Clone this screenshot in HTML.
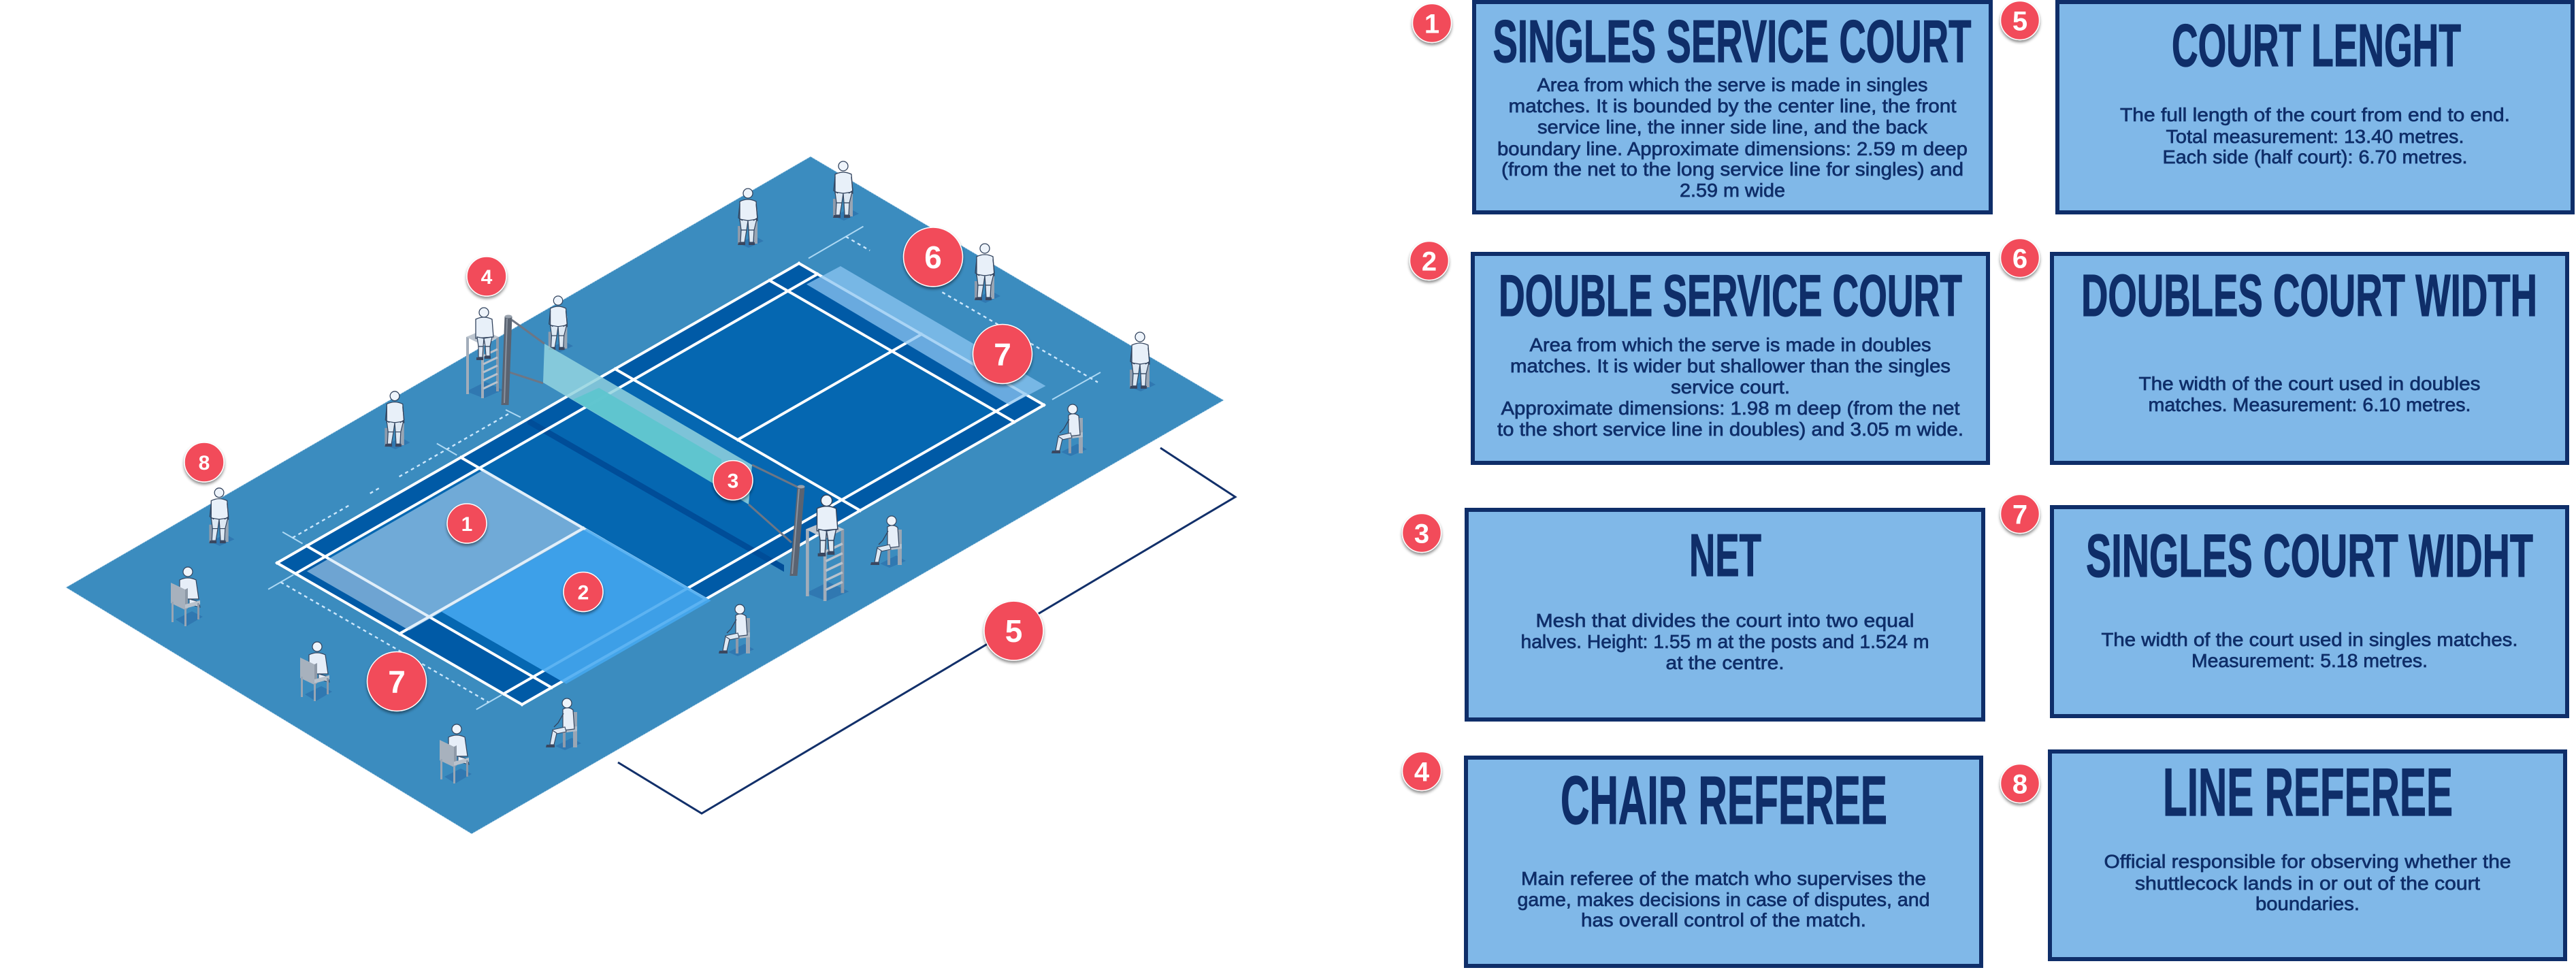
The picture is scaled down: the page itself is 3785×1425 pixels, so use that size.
<!DOCTYPE html>
<html><head><meta charset="utf-8"><style>
html,body{margin:0;padding:0;background:#fff;}
svg{display:block;}
.t{font-family:"Liberation Sans Narrow","Liberation Sans",sans-serif;font-weight:700;fill:#0f2e69;stroke:#0f2e69;stroke-width:1.2px;}
.b{font-family:"Liberation Sans",sans-serif;font-size:28px;fill:#0f2e69;stroke:#0f2e69;stroke-width:0.7px;}
.n{font-family:"Liberation Sans Narrow","Liberation Sans",sans-serif;font-weight:700;fill:#fff;}
</style></head><body>
<svg width="3785" height="1425" viewBox="0 0 3785 1425" xmlns="http://www.w3.org/2000/svg">
<defs>
<filter id="sh" x="-40%" y="-40%" width="180%" height="190%"><feDropShadow dx="0" dy="3" stdDeviation="2.2" flood-color="#000" flood-opacity="0.45"/></filter>
<symbol id="pf" viewBox="0 0 44 90">
 <polygon points="8,84 30,72 44,80 22,90" fill="#245f9f" opacity="0.45"/>
 <rect x="30" y="34" width="5" height="50" fill="#9aa6b4"/>
 <rect x="6" y="58" width="4" height="28" fill="#8f9bab"/>
 <path d="M9 22 Q21 16 33 22 L35 50 L9 50 Z" fill="#e8f0f9" stroke="#33445e" stroke-width="1.3"/>
 <circle cx="21" cy="10" r="7" fill="#eef4fb" stroke="#33445e" stroke-width="1.3"/>
 <path d="M9 48 L11 64 L19 64 L21 50 Z M21 50 L22 64 L30 64 L34 48 Z" fill="#dde8f3" stroke="#33445e" stroke-width="1.2"/>
 <path d="M11 64 L10 82 L16 82 L19 64 Z M22 64 L23 82 L29 82 L30 64 Z" fill="#dde8f3" stroke="#33445e" stroke-width="1.2"/>
 <path d="M7 82 h10 v4 h-11 Z M22 82 h9 v4 h-9 Z" fill="#3a4760"/>
 <path d="M9 26 L7 46 L13 50 M33 26 L35 46 L29 50" fill="none" stroke="#33445e" stroke-width="1.3"/>
</symbol>
<symbol id="pb" viewBox="0 0 50 90">
 <polygon points="10,80 34,68 50,76 26,90" fill="#245f9f" opacity="0.45"/>
 <circle cx="28" cy="10" r="7" fill="#eef4fb" stroke="#33445e" stroke-width="1.2"/>
 <path d="M16 22 Q28 16 40 22 L44 50 L16 50 Z" fill="#e6eef8" stroke="#33445e" stroke-width="1.2"/>
 <path d="M30 50 L44 54 L46 62 L30 58 Z" fill="#e6eef8" stroke="#33445e" stroke-width="1"/>
 <polygon points="3,26 24,36 24,66 3,56" fill="#a7b1bd"/>
 <polygon points="24,36 28,34 28,64 24,66" fill="#8e99a7"/>
 <polygon points="24,58 46,52 46,58 24,64" fill="#b9c2cc"/>
 <rect x="4" y="54" width="3" height="30" fill="#9aa6b4"/>
 <rect x="23" y="64" width="3" height="26" fill="#9aa6b4"/>
 <rect x="42" y="56" width="3" height="24" fill="#8f9bab"/>
</symbol>
<symbol id="ps" viewBox="0 0 54 78">
 <polygon points="16,72 40,60 54,68 30,78" fill="#245f9f" opacity="0.45"/>
 <rect x="42" y="22" width="6" height="52" fill="#9aa6b4"/>
 <rect x="27" y="48" width="4" height="26" fill="#8f9bab"/>
 <polygon points="24,46 48,43 48,50 24,53" fill="#b3bdc8"/>
 <path d="M27 18 Q35 13 42 19 L44 47 L27 49 Z" fill="#e6eef8" stroke="#33445e" stroke-width="1.2"/>
 <circle cx="33" cy="9" r="7" fill="#eef4fb" stroke="#33445e" stroke-width="1.2"/>
 <path d="M30 44 L12 48 L13 55 L32 51 Z" fill="#dde8f3" stroke="#33445e" stroke-width="1.1"/>
 <path d="M12 49 L8 70 L14 70 L18 53 Z" fill="#dde8f3" stroke="#33445e" stroke-width="1.1"/>
 <path d="M3 70 h12 v4 h-13 Z" fill="#3a4760"/>
 <path d="M28 24 L20 38 L14 44" fill="none" stroke="#33445e" stroke-width="1.3"/>
</symbol>
<symbol id="tc" viewBox="0 0 56 134">
 <polygon points="2,124 30,110 56,122 28,134" fill="#245f9f" opacity="0.45"/>
 <rect x="2" y="44" width="4" height="84" fill="#a2adba"/>
 <rect x="24" y="56" width="4" height="78" fill="#a2adba"/>
 <rect x="46" y="44" width="4" height="80" fill="#8e9aa9"/>
 <g stroke="#b8c2cd" stroke-width="3">
  <line x1="27" y1="72" x2="48" y2="62"/><line x1="27" y1="84" x2="48" y2="74"/>
  <line x1="27" y1="96" x2="48" y2="86"/><line x1="27" y1="108" x2="48" y2="98"/>
  <line x1="27" y1="120" x2="48" y2="110"/>
 </g>
 <polygon points="2,44 26,56 50,44 26,34" fill="#bcc5cf"/>
 <path d="M16 18 Q28 12 40 18 L42 44 L16 46 Z" fill="#e8f0f9" stroke="#33445e" stroke-width="1.3"/>
 <circle cx="28" cy="8" r="7" fill="#eef4fb" stroke="#33445e" stroke-width="1.3"/>
 <path d="M18 44 L20 58 L27 58 L28 46 Z M28 46 L30 58 L37 58 L40 44 Z" fill="#dde8f3" stroke="#33445e" stroke-width="1.2"/>
 <path d="M20 58 L20 74 L26 74 L27 58 Z M30 58 L31 72 L37 72 L37 58 Z" fill="#dde8f3" stroke="#33445e" stroke-width="1.2"/>
 <path d="M17 74 h10 v4 h-10 Z M29 72 h9 v4 h-9 Z" fill="#3a4760"/>
</symbol>
</defs>

<!-- FLOOR -->
<polygon points="97,863 693,1225 1798,588 1191,230" fill="#3b8cbf" stroke="#cfe6f5" stroke-opacity="0.5" stroke-width="1.5" stroke-dasharray="2 2"/>
<!-- COURT -->
<polygon points="407,827 767,1035 1534,595 1174,387" fill="#0567b1"/>
<g fill="#005aa6">
 <polygon points="407,827 1174,387 1201.2,402.6 434.2,842.7"/>
 <polygon points="739.9,1019.3 1506.9,579.3 1534,595 767,1035"/>
 <polygon points="407,827 767,1035 810.5,1010 450.5,802"/>
 <polygon points="1130.5,411.9 1490.5,619.9 1534,595 1174,387"/>
</g>
<!-- net shadow -->
<polygon points="775,613 1152,830 1152,840 775,623" fill="#004d98"/>
<!-- lines -->
<path d="M407,827 L1174,386.9 M434.2,842.7 L1201.2,402.6 M739.9,1019.3 L1506.9,579.3 M767,1035 L1534,595 M407,827 L767,1035 M450.5,802 L810.5,1010.1 M677.2,672 L1037.2,880 M903.8,542 L1263.9,750 M1130.5,411.9 L1490.5,619.9 M1174,386.9 L1534,595 M587,931 L857.2,776 M1083.9,646 L1354,491" stroke="#fff" stroke-width="4" fill="none" stroke-linecap="square"/>
<!-- overlays -->
<polygon points="450.9,839.2 601.4,926.1 861.9,776.7 711.4,689.8" fill="#c8e1f5" fill-opacity="0.55"/>
<polygon points="648.9,898.9 831.9,1004.6 1044.8,882.4 861.9,776.7" fill="#46a8f0" fill-opacity="0.88"/>
<polygon points="1235,391 1536.4,567 1483,595 1185,417.6" fill="#8cc6f2" fill-opacity="0.75"/>

<!-- dashed dimension lines -->
<g stroke="#d4ecff" stroke-width="2.4" fill="none" stroke-dasharray="5 5" stroke-opacity="0.95">
 <path d="M429.8,790.1 L512.3,742.8 M543.7,724.8 L560.9,714.9 M586.6,700.2 L746.9,608.2"/>
 <path d="M412.4,855.2 L718.1,1031.8"/>
 <path d="M1242.7,347.5 L1278.1,368 M1384.4,429.3 L1613,561.6"/>
</g>
<g stroke="#b9e0f8" stroke-width="2" fill="none" stroke-opacity="0.9">
 <path d="M415.1,781.5 L444.6,798.6 M641.8,651.5 L671.3,668.6 M743,602 L765,613"/>
 <path d="M394.1,865.7 L431.3,844.3 M699.8,1042.3 L737,1020.9"/>
 <path d="M1188,379.5 L1268.5,332.6 M1546,587 L1617,547"/>
</g>

<!-- people behind -->
<use href="#pf" x="1078" y="274" width="44" height="90"/>
<use href="#pf" x="1218" y="234" width="44" height="90"/>
<use href="#pf" x="1426" y="355" width="44" height="90"/>
<use href="#pf" x="1654" y="485" width="44" height="90"/>
<use href="#ps" x="1543" y="592" width="54" height="78"/>
<use href="#pf" x="800" y="432" width="42" height="86"/>
<use href="#tc" x="683" y="451" width="56" height="134"/>
<use href="#pf" x="559" y="572" width="44" height="88"/>
<use href="#pf" x="301" y="714" width="44" height="88"/>

<!-- NET -->
<g stroke="#6d7685" stroke-width="3" fill="none">
 <line x1="752" y1="470" x2="800" y2="505"/>
 <line x1="749" y1="547" x2="798" y2="563"/>
 <line x1="1105" y1="683" x2="1175" y2="717"/>
 <line x1="1100" y1="741" x2="1163" y2="797"/>
</g>
<polygon points="800,505 1105,683 1100,741 798,562" fill="#93d3df" fill-opacity="0.85"/>
<polygon points="880,569.7 1060,674.7 1060,717.3 842,587" fill="#5ec5cf" fill-opacity="0.95"/>
<polygon points="736.5,595 741.5,465 752.5,465 747.5,595" fill="#5a6371"/>
<line x1="745" y1="468" x2="741" y2="592" stroke="#8a93a0" stroke-width="2"/>
<ellipse cx="747" cy="465" rx="5.5" ry="2.5" fill="#9aa3ae"/>
<polygon points="1160.5,846 1171.5,715 1182.5,715 1171.5,846" fill="#5a6371"/>
<line x1="1174" y1="718" x2="1164" y2="843" stroke="#8a93a0" stroke-width="2"/>
<ellipse cx="1177" cy="715" rx="5.5" ry="2.5" fill="#9aa3ae"/>

<!-- people front -->
<use href="#tc" x="1181" y="726" width="67" height="157"/>
<use href="#ps" x="1277" y="756" width="54" height="78"/>
<use href="#ps" x="1054" y="886" width="54" height="78"/>
<use href="#ps" x="800" y="1024" width="54" height="78"/>
<use href="#pb" x="248" y="830" width="50" height="90"/>
<use href="#pb" x="438" y="940" width="50" height="90"/>
<use href="#pb" x="643" y="1061" width="50" height="90"/>

<!-- bracket 5 -->
<polyline points="908,1120 1031,1195 1815,730 1705,658" fill="none" stroke="#12306a" stroke-width="3"/>

<!-- court badges -->
<g filter="url(#sh)" fill="#f24c5a" stroke="#fff" stroke-width="1.5">
 <circle cx="686" cy="769" r="29"/><circle cx="857" cy="869.5" r="29"/><circle cx="1077" cy="705.6" r="29"/>
 <circle cx="715" cy="406" r="29"/><circle cx="300" cy="679" r="29"/>
 <circle cx="583" cy="1001" r="43.5"/><circle cx="1371" cy="377.5" r="43.5"/><circle cx="1473" cy="520" r="43.5"/><circle cx="1489.5" cy="926.6" r="43.5"/>
</g>
<g class="n" font-size="30" text-anchor="middle">
 <text x="686" y="780">1</text><text x="857" y="880.5">2</text><text x="1077" y="716.6">3</text>
 <text x="715" y="417">4</text><text x="300" y="690">8</text>
</g>
<g class="n" font-size="46" text-anchor="middle">
 <text x="583" y="1017.5">7</text><text x="1371" y="394">6</text><text x="1473" y="536.5">7</text><text x="1489.5" y="943">5</text>
</g>

<!-- BOXES -->
<g fill="#80b8e8" stroke="#0f2e69" stroke-width="6">
 <rect x="2166" y="3" width="759" height="309"/>
 <rect x="2164" y="373" width="757" height="307"/>
 <rect x="2155" y="749" width="759" height="308"/>
 <rect x="2154" y="1113" width="757" height="306"/>
 <rect x="3023" y="3" width="757" height="309"/>
 <rect x="3015" y="373" width="757" height="307"/>
 <rect x="3015" y="745" width="757" height="307"/>
 <rect x="3012" y="1104" width="757" height="305"/>
</g>

<!-- right badges -->
<g filter="url(#sh)" fill="#f24c5a" stroke="#fff" stroke-width="1.5">
 <circle cx="2104" cy="34" r="28.5"/><circle cx="2100" cy="383" r="28.5"/><circle cx="2089" cy="783" r="28.5"/><circle cx="2089" cy="1133" r="28.5"/>
 <circle cx="2968" cy="30" r="28.5"/><circle cx="2968" cy="379" r="28.5"/><circle cx="2968" cy="755" r="28.5"/><circle cx="2968" cy="1151" r="28.5"/>
</g>
<g class="n" font-size="40" text-anchor="middle">
 <text x="2104" y="48.5">1</text><text x="2100" y="397.5">2</text><text x="2089" y="797.5">3</text><text x="2089" y="1147.5">4</text>
 <text x="2968" y="44.5">5</text><text x="2968" y="393.5">6</text><text x="2968" y="769.5">7</text><text x="2968" y="1165.5">8</text>
</g>

<!-- Titles -->
<g class="t" text-anchor="middle">
 <text x="2545" y="91" font-size="88" textLength="703" lengthAdjust="spacingAndGlyphs">SINGLES SERVICE COURT</text>
 <text x="2542.5" y="464" font-size="86" textLength="681" lengthAdjust="spacingAndGlyphs">DOUBLE SERVICE COURT</text>
 <text x="2535" y="846" font-size="88" textLength="106" lengthAdjust="spacingAndGlyphs">NET</text>
 <text x="2533" y="1210" font-size="100" textLength="480" lengthAdjust="spacingAndGlyphs">CHAIR REFEREE</text>
 <text x="3403.5" y="97" font-size="88" textLength="425" lengthAdjust="spacingAndGlyphs">COURT LENGHT</text>
 <text x="3393" y="464" font-size="87" textLength="670" lengthAdjust="spacingAndGlyphs">DOUBLES COURT WIDTH</text>
 <text x="3393.5" y="847" font-size="89" textLength="657" lengthAdjust="spacingAndGlyphs">SINGLES COURT WIDHT</text>
 <text x="3391" y="1198" font-size="99" textLength="426" lengthAdjust="spacingAndGlyphs">LINE REFEREE</text>
</g>

<!-- Body text -->
<g class="b" text-anchor="middle">
 <text x="2545.5" y="134" textLength="574" lengthAdjust="spacingAndGlyphs">Area from which the serve is made in singles</text>
 <text x="2545.5" y="165" textLength="658" lengthAdjust="spacingAndGlyphs">matches. It is bounded by the center line, the front</text>
 <text x="2545.5" y="196" textLength="573" lengthAdjust="spacingAndGlyphs">service line, the inner side line, and the back</text>
 <text x="2545.5" y="228" textLength="691" lengthAdjust="spacingAndGlyphs">boundary line. Approximate dimensions: 2.59 m deep</text>
 <text x="2545.5" y="258" textLength="679" lengthAdjust="spacingAndGlyphs">(from the net to the long service line for singles) and</text>
 <text x="2545.5" y="289" textLength="155" lengthAdjust="spacingAndGlyphs">2.59 m wide</text>

 <text x="2542.5" y="516" textLength="590" lengthAdjust="spacingAndGlyphs">Area from which the serve is made in doubles</text>
 <text x="2542.5" y="547" textLength="647" lengthAdjust="spacingAndGlyphs">matches. It is wider but shallower than the singles</text>
 <text x="2542.5" y="578" textLength="175" lengthAdjust="spacingAndGlyphs">service court.</text>
 <text x="2542.5" y="609" textLength="674" lengthAdjust="spacingAndGlyphs">Approximate dimensions: 1.98 m deep (from the net</text>
 <text x="2542.5" y="640" textLength="685" lengthAdjust="spacingAndGlyphs">to the short service line in doubles) and 3.05 m wide.</text>

 <text x="2534.5" y="921" textLength="556" lengthAdjust="spacingAndGlyphs">Mesh that divides the court into two equal</text>
 <text x="2534.5" y="952" textLength="600" lengthAdjust="spacingAndGlyphs">halves. Height: 1.55 m at the posts and 1.524 m</text>
 <text x="2534.5" y="983" textLength="174" lengthAdjust="spacingAndGlyphs">at the centre.</text>

 <text x="2532.5" y="1300" textLength="595" lengthAdjust="spacingAndGlyphs">Main referee of the match who supervises the</text>
 <text x="2532.5" y="1331" textLength="606" lengthAdjust="spacingAndGlyphs">game, makes decisions in case of disputes, and</text>
 <text x="2532.5" y="1361" textLength="419" lengthAdjust="spacingAndGlyphs">has overall control of the match.</text>

 <text x="3401.5" y="178" textLength="573" lengthAdjust="spacingAndGlyphs">The full length of the court from end to end.</text>
 <text x="3401.5" y="210" textLength="438" lengthAdjust="spacingAndGlyphs">Total measurement: 13.40 metres.</text>
 <text x="3401.5" y="240" textLength="448" lengthAdjust="spacingAndGlyphs">Each side (half court): 6.70 metres.</text>

 <text x="3393.5" y="573" textLength="502" lengthAdjust="spacingAndGlyphs">The width of the court used in doubles</text>
 <text x="3393.5" y="604" textLength="474" lengthAdjust="spacingAndGlyphs">matches. Measurement: 6.10 metres.</text>

 <text x="3393.5" y="949" textLength="612" lengthAdjust="spacingAndGlyphs">The width of the court used in singles matches.</text>
 <text x="3393.5" y="980" textLength="347" lengthAdjust="spacingAndGlyphs">Measurement: 5.18 metres.</text>

 <text x="3390.5" y="1275" textLength="598" lengthAdjust="spacingAndGlyphs">Official responsible for observing whether the</text>
 <text x="3390.5" y="1307" textLength="507" lengthAdjust="spacingAndGlyphs">shuttlecock lands in or out of the court</text>
 <text x="3390.5" y="1337" textLength="153" lengthAdjust="spacingAndGlyphs">boundaries.</text>
</g>
</svg>
</body></html>
